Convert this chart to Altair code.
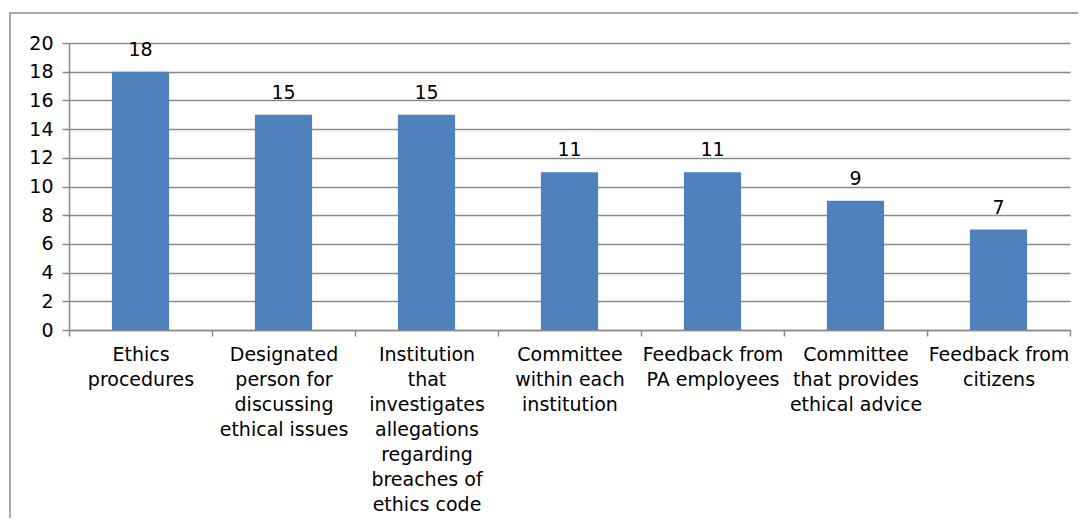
import altair as alt
import pandas as pd

categories = [
    "Ethics\nprocedures",
    "Designated\nperson for\ndiscussing\nethical issues",
    "Institution\nthat\ninvestigates\nallegations\nregarding\nbreaches of\nethics code",
    "Committee\nwithin each\ninstitution",
    "Feedback from\nPA employees",
    "Committee\nthat provides\nethical advice",
    "Feedback from\ncitizens",
]
values = [18, 15, 15, 11, 11, 9, 7]
y_ticks = list(range(0, 21, 2))

df = pd.DataFrame({"category": categories, "value": values})

FONT = "DejaVu Sans"
GRID = "#8a8a8a"
FS = 19

x = alt.X(
    "category:N",
    sort=categories,
    scale=alt.Scale(paddingInner=0, paddingOuter=0),
    axis=alt.Axis(
        title=None,
        labelAngle=0,
        labelExpr="isValid(datum.value) ? split(datum.value, '\\n') : ''",
        labelFont=FONT,
        labelFontSize=FS,
        labelColor="black",
        labelLineHeight=25,
        labelBaseline="top",
        labelPadding=9,
        labelLimit=200,
        tickBand="extent",
        tickSize=6,
        tickColor=GRID,
        tickWidth=1.5,
        domainColor=GRID,
        domainWidth=1.5,
        grid=False,
    ),
)
y = alt.Y(
    "value:Q",
    scale=alt.Scale(domain=[0, 20], nice=False),
    axis=alt.Axis(
        title=None,
        values=y_ticks,
        labelFont=FONT,
        labelFontSize=FS,
        labelColor="black",
        labelPadding=9,
        tickSize=7,
        tickColor=GRID,
        tickWidth=1.5,
        domainColor=GRID,
        domainWidth=1.5,
        gridColor=GRID,
        gridWidth=1.5,
    ),
)

base = alt.Chart(df)
bars = base.mark_bar(color="#4F81BD", width=alt.RelativeBandSize(0.4)).encode(x=x, y=y)
labels = base.mark_text(
    font=FONT, fontSize=FS, color="black", baseline="alphabetic", dy=-16
).encode(x=x, y=y, text="value:Q")

frame = alt.Chart(alt.Data(values=[{}])).mark_rect(
    fill=None, stroke="#8c8c8c", strokeWidth=1.5, clip=False
).encode(
    x=alt.value(-59), x2=alt.value(1100), y=alt.value(-30), y2=alt.value(700)
)

chart = alt.layer(bars, labels, frame).properties(
    width=1001,
    height=287,
    padding={"left": 61, "top": 35, "right": 8, "bottom": 188},
    autosize=alt.AutoSizeParams(type="none"),
).configure_view(stroke=None)

chart.save("out.html", embed_options={"renderer": "svg", "actions": False})
